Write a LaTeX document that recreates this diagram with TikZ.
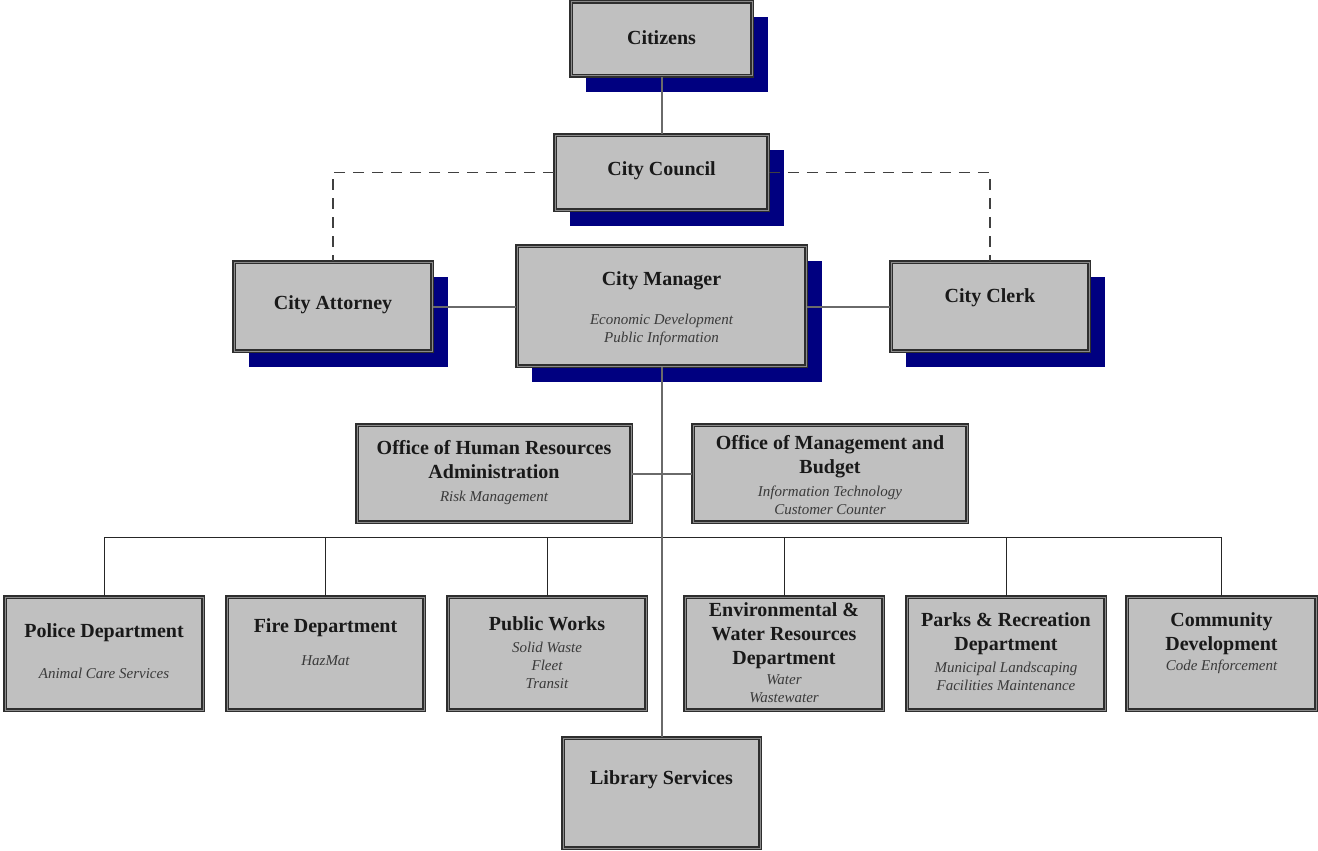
\documentclass[tikz,border=0pt]{standalone}
\usepackage{fontspec}
\setmainfont{Liberation Serif}
\definecolor{navyc}{HTML}{000080}
\definecolor{boxgray}{HTML}{C0C0C0}
\definecolor{edgec}{HTML}{2E2E2E}
\definecolor{midc}{HTML}{8A8A8A}
\definecolor{linec}{HTML}{6A6A6A}
\definecolor{subc}{HTML}{3A3A3A}
\tikzset{
  obox/.style={draw=edgec, line width=1.8pt, double=midc, double distance=1pt, fill=boxgray, inner sep=0pt},
  ttl/.style={font=\fontsize{20}{24}\selectfont\bfseries, text=black!90, inner sep=0pt, align=center},
  sub/.style={font=\fontsize{15}{18}\selectfont\itshape, text=subc, inner sep=0pt, align=center},
  conn/.style={draw=linec, line width=2pt},
  busl/.style={draw=black!85, line width=1pt},
  dashline/.style={draw=black!75, line width=1.2pt, dash pattern=on 11pt off 8pt}
}
\newcommand\shadowbox[5]{%
  \fill[navyc] ({#2+15},{#3+15}) rectangle ({#4+16},{#5+16});
  \node[obox, minimum width={#4-#2}, minimum height={#5-#3}] (#1) at ({(#2+#4)/2},{(#3+#5)/2}) {};}
\newcommand\plainbox[5]{%
  \node[obox, minimum width={#4-#2}, minimum height={#5-#3}] (#1) at ({(#2+#4)/2},{(#3+#5)/2}) {};}
\begin{document}
\begin{tikzpicture}[x=1pt,y=-1pt]
\useasboundingbox (0,0) rectangle (1318,851);
% boxes
\shadowbox{cit}{571}{2}{752}{76}
\shadowbox{council}{555}{135}{768}{210}
\shadowbox{att}{234}{262}{432}{351}
\shadowbox{mgr}{517}{246}{806}{366}
\shadowbox{clerk}{891}{262}{1089}{351}
\plainbox{hr}{357}{425}{631}{522}
\plainbox{omb}{693}{425}{967}{522}
\plainbox{police}{5}{597}{203}{710}
\plainbox{fire}{227}{597}{424}{710}
\plainbox{pw}{448}{597}{646}{710}
\plainbox{env}{685}{597}{883}{710}
\plainbox{parks}{907}{597}{1105}{710}
\plainbox{comm}{1127}{597}{1316}{710}
\plainbox{lib}{563}{738}{760}{848}
% connectors
\coordinate (bus) at (661,537);
\draw[busl] (police.north) |- (bus);
\draw[busl] (fire.north) |- (bus);
\draw[busl] (pw.north) |- (bus);
\draw[busl] (env.north) |- (bus);
\draw[busl] (parks.north) |- (bus);
\draw[busl] (comm.north) |- (bus);
\draw[conn] (cit.south) -- (council.north);
\draw[dashline] (council.west) -| (att.north);
\draw[dashline] (council.east) -| (clerk.north);
\draw[conn] (att.east) -- (att.east -| mgr.west);
\draw[conn] (clerk.west) -- (clerk.west -| mgr.east);
\draw[conn] (hr.east) -- (omb.west);
\draw[conn] (mgr.south) -- (lib.north);
% texts
\node[ttl] (cit-t) at (661.5,38) {Citizens};
\node[ttl] (council-t) at (661.5,171) {City Council};
\node[ttl] (att-t) at (333,305) {City Attorney};
\node[ttl] (mgr-t) at (661.5,281) {City Manager};
\node[sub] (mgr-s) at (661.5,330) {Economic Development\\Public Information};
\node[ttl] (clerk-t) at (990,298) {City Clerk};
\node[ttl] (hr-t) at (494,460) {Office of Human Resources\\Administration};
\node[sub] (hr-s) at (494,498) {Risk Management};
\node[ttl] (omb-t) at (830,457) {Office of Management and\\Budget};
\node[sub] (omb-s) at (830,500) {Information Technology\\Customer Counter};
\node[ttl] (police-t) at (104,633) {Police Department};
\node[sub] (police-s) at (104,673) {Animal Care Services};
\node[ttl] (fire-t) at (325.5,628) {Fire Department};
\node[sub] (fire-s) at (325.5,661) {HazMat};
\node[ttl] (pw-t) at (547,624) {Public Works};
\node[sub] (pw-s) at (547,665) {Solid Waste\\Fleet\\Transit};
\node[ttl] (env-t) at (784,636) {Environmental \&\\Water Resources\\Department};
\node[sub] (env-s) at (784,689) {Water\\Wastewater};
\node[ttl] (parks-t) at (1006,633.5) {Parks \& Recreation\\Department};
\node[sub] (parks-s) at (1006,676) {Municipal Landscaping\\Facilities Maintenance};
\node[ttl] (comm-t) at (1221.5,634) {Community\\Development};
\node[sub] (comm-s) at (1221.5,667) {Code Enforcement};
\node[ttl] (lib-t) at (661.5,780) {Library Services};
\end{tikzpicture}
\end{document}
